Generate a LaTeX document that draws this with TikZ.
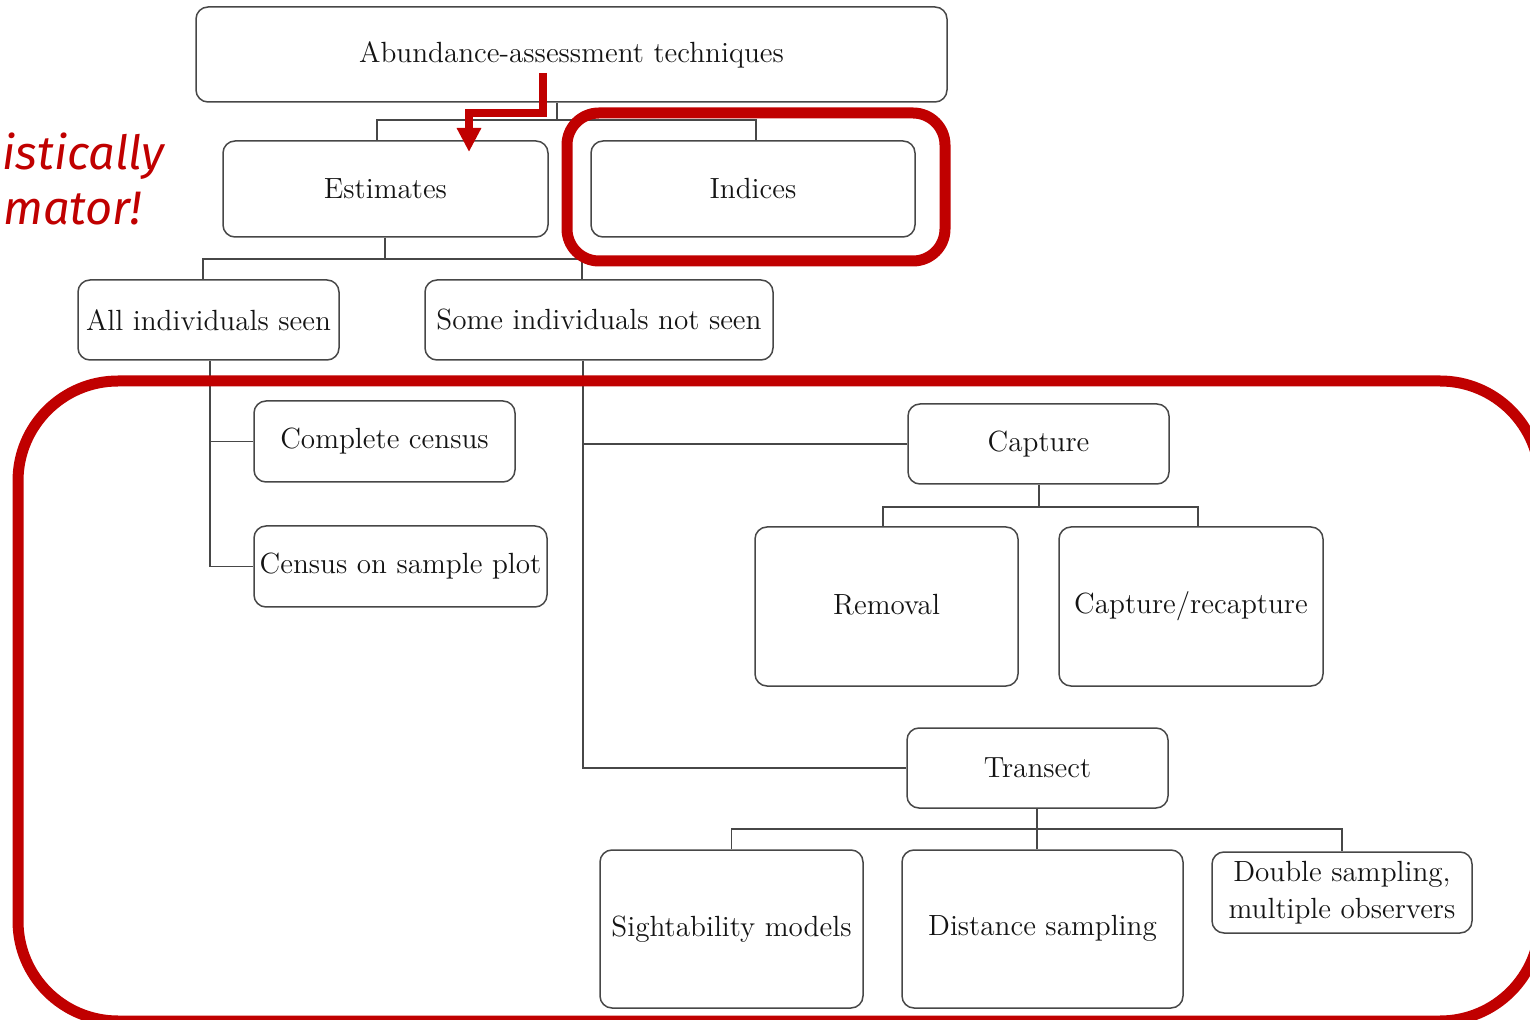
\documentclass[tikz,border=0pt]{standalone}
\usepackage{fontspec}
\newfontfamily\handfont{Fira Sans}
\usetikzlibrary{arrows.meta}
\definecolor{hl}{HTML}{C00000}
\definecolor{bx}{HTML}{474747}
\definecolor{tx}{HTML}{141414}
\begin{document}
\begin{tikzpicture}[x=0.5pt,y=-0.5pt,
  box/.style={draw=bx, line width=0.75pt, rounded corners=6pt, text=tx,
    font=\fontsize{14.6}{18.5}\selectfont, inner sep=0pt, align=center},
  conn/.style={draw=bx, line width=0.7pt},
  hlframe/.style={draw=hl, line width=5.5pt},
  hlarrow/.style={draw=hl, line width=4pt, -{Triangle[width=11.5pt,length=12pt]}},
  hltext/.style={text=hl, font=\handfont\itshape\fontsize{23.5}{28}\selectfont, inner sep=0pt}]
\useasboundingbox (0,0) rectangle (1530,1020);

% boxes
\node[box, minimum width=375.5pt, minimum height=47.5pt] (abund) at (571.5,54.5) {Abundance-assessment techniques};
\node[box, minimum width=162.5pt, minimum height=48pt] (est) at (385.5,189) {Estimates};
\node[box, minimum width=162pt, minimum height=48pt] (ind) at (753,189) {\raisebox{-2pt}{Indices}};
\node[box, minimum width=130.5pt, minimum height=40pt] (all) at (208.5,320) {All individuals seen};
\node[box, minimum width=174pt, minimum height=40pt] (some) at (599,320) {Some individuals not seen};
\node[box, minimum width=130.5pt, minimum height=40.5pt] (cc) at (384.5,441.5) {Complete census};
\node[box, minimum width=146.5pt, minimum height=40.5pt] (csp) at (400.5,566.5) {Census on sample plot};
\node[box, minimum width=130.5pt, minimum height=40pt] (cap) at (1038.5,444) {Capture};
\node[box, minimum width=131.5pt, minimum height=79.5pt] (rem) at (886.5,606.5) {\raisebox{2pt}{Removal}};
\node[box, minimum width=132pt, minimum height=79.5pt] (cr) at (1191,606.5) {Capture/recapture};
\node[box, minimum width=130.5pt, minimum height=40pt] (tra) at (1037.5,768) {Transect};
\node[box, minimum width=131.5pt, minimum height=79pt] (sig) at (731.5,929) {Sightability models};
\node[box, minimum width=140.5pt, minimum height=79pt] (dist) at (1042.5,929) {\raisebox{4pt}{Distance sampling}};
\node[box, minimum width=130pt, minimum height=40.5pt] (dbl) at (1342,892.5) {Double sampling,\\multiple observers};

% junction coordinates
\coordinate (t1) at (557,120);
\coordinate (te) at (377,120);
\coordinate (ti) at (756,120);
\coordinate (e1) at (385,259);
\coordinate (ea) at (203,259);
\coordinate (es) at (582,259);
\coordinate (ax) at (210,0);
\coordinate (sx) at (583,0);
\coordinate (c1) at (1039,507);
\coordinate (cr1) at (883,507);
\coordinate (cr2) at (1198,507);
\coordinate (tr0) at (1037,829);

% connectors
\draw[conn] (abund.south -| t1) -- (t1);
\draw[conn] (est.north -| te) |- (ti) -- (ind.north -| ti);
\draw[conn] (est.south -| e1) -- (e1);
\draw[conn] (all.north -| ea) |- (es) -- (some.north -| es);
\draw[conn] (all.south -| ax) |- (csp.west);
\draw[conn] (cc.west) -- (cc.west -| ax);
\draw[conn] (some.south -| sx) |- (tra.west);
\draw[conn] (cap.west) -- (cap.west -| sx);
\draw[conn] (cap.south -| c1) -- (c1);
\draw[conn] (rem.north -| cr1) |- (cr2) -- (cr.north -| cr2);
\draw[conn] (tra.south -| tr0) -- (tr0);
\draw[conn] (sig.north) |- (dbl.north |- tr0) -- (dbl.north);
\draw[conn] (dist.north -| tr0) -- (tr0);

% red highlights
\draw[hlframe, rounded corners=16pt] (567,113) rectangle (945,261);
\draw[hlframe, rounded corners=50pt] (18,381) rectangle (1540,1021);
\coordinate (a0) at (543,73);
\coordinate (a1) at (543,113);
\coordinate (a2) at (469,113);
\coordinate (a3) at (469,152);
\draw[hlarrow] (a0) -- (a1) -- (a2) -- (a3);

\node[hltext, anchor=base east] (n1) at (165,170) {istically};
\node[hltext, anchor=base west] (n2) at (3,225) {mator!};
\end{tikzpicture}
\end{document}
